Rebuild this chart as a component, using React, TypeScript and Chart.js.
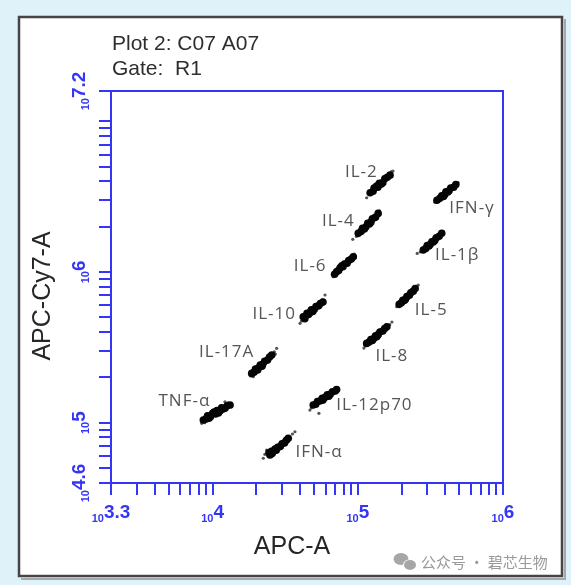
import React, { useEffect, useRef } from 'react';
import { Chart, registerables } from 'chart.js';
Chart.register(...registerables);

// ---- text ----
const HEADER_LINES = ['Plot 2: C07 A07', 'Gate:  R1'];
const X_TITLE = 'APC-A';
const Y_TITLE = 'APC-Cy7-A';
const WATERMARK = '公众号 · 碧芯生物';

// ---- axis ranges (log10 exponents) and tick labels ----
const X_RANGE = [3.3, 6];
const Y_RANGE = [4.6, 7.2];
const X_TICK_LABELS = ['3.3', '4', '5', '6'];
const Y_TICK_LABELS = ['4.6', '5', '6', '7.2'];

// ---- bead clusters: [log10(APC-A), log10(APC-Cy7-A)] ----
const IL2_CORE = [[5.085, 6.525], [5.105, 6.535], [5.112, 6.556], [5.138, 6.562], [5.148, 6.588], [5.172, 6.592], [5.186, 6.618], [5.203, 6.628], [5.222, 6.642], [5.13, 6.57], [5.16, 6.582]];
const IL2_STRAY = [[5.061, 6.492], [5.242, 6.669], [5.232, 6.665], [5.18, 6.63]];
const IFNG_CORE = [[5.545, 6.475], [5.565, 6.488], [5.578, 6.505], [5.598, 6.512], [5.607, 6.532], [5.628, 6.538], [5.64, 6.556], [5.66, 6.562], [5.675, 6.58], [5.59, 6.5], [5.62, 6.53]];
const IFNG_STRAY = [[5.531, 6.462], [5.69, 6.592], [5.555, 6.47]];
const IL4_CORE = [[5.003, 6.256], [5.022, 6.268], [5.032, 6.29], [5.055, 6.298], [5.068, 6.322], [5.09, 6.33], [5.1, 6.352], [5.122, 6.362], [5.14, 6.388], [5.045, 6.285], [5.08, 6.318]];
const IL4_STRAY = [[4.965, 6.216], [5.148, 6.405], [4.99, 6.235], [5.11, 6.375]];
const IL1B_CORE = [[5.451, 6.145], [5.468, 6.155], [5.478, 6.175], [5.498, 6.182], [5.51, 6.2], [5.53, 6.208], [5.54, 6.226], [5.56, 6.236], [5.578, 6.256], [5.49, 6.172], [5.52, 6.198]];
const IL1B_STRAY = [[5.409, 6.123], [5.43, 6.132], [5.59, 6.265]];
const IL6_CORE = [[4.84, 5.985], [4.854, 6.001], [4.868, 6.01], [4.878, 6.028], [4.897, 6.035], [4.908, 6.052], [4.926, 6.058], [4.937, 6.076], [4.955, 6.085], [4.969, 6.101], [4.89, 6.04]];
const IL6_STRAY = [[4.831, 5.968], [4.975, 6.118], [4.96, 6.11]];
const IL5_CORE = [[5.285, 5.785], [5.3, 5.795], [5.31, 5.812], [5.328, 5.818], [5.338, 5.836], [5.355, 5.845], [5.365, 5.862], [5.382, 5.872], [5.395, 5.89], [5.32, 5.81]];
const IL5_STRAY = [[5.268, 5.769], [5.416, 5.913], [5.405, 5.905], [5.37, 5.885]];
const IL10_CORE = [[4.624, 5.703], [4.64, 5.708], [4.65, 5.725], [4.67, 5.73], [4.68, 5.748], [4.7, 5.752], [4.712, 5.77], [4.73, 5.775], [4.742, 5.79], [4.76, 5.8], [4.66, 5.718], [4.69, 5.738], [4.635, 5.69]];
const IL10_STRAY = [[4.602, 5.659], [4.612, 5.675], [4.774, 5.847], [4.755, 5.815]];
const IL8_CORE = [[5.061, 5.526], [5.078, 5.535], [5.09, 5.552], [5.11, 5.558], [5.122, 5.577], [5.14, 5.584], [5.152, 5.602], [5.172, 5.608], [5.185, 5.625], [5.2, 5.636], [5.1, 5.545], [5.13, 5.57]];
const IL8_STRAY = [[5.042, 5.495], [5.235, 5.668], [5.22, 5.65], [5.05, 5.51]];
const IL17A_CORE = [[4.269, 5.327], [4.285, 5.335], [4.295, 5.355], [4.315, 5.362], [4.328, 5.382], [4.345, 5.388], [4.358, 5.408], [4.378, 5.415], [4.392, 5.435], [4.407, 5.449], [4.31, 5.35], [4.34, 5.375]];
const IL17A_STRAY = [[4.28, 5.305], [4.441, 5.493], [4.425, 5.47], [4.432, 5.455], [4.262, 5.31]];
const TNFA_CORE = [[3.936, 5.018], [3.955, 5.025], [3.965, 5.045], [3.985, 5.04], [4.0, 5.062], [4.02, 5.058], [4.03, 5.08], [4.05, 5.078], [4.062, 5.098], [4.085, 5.095], [4.1, 5.112], [4.12, 5.117], [3.975, 5.03], [4.01, 5.07], [4.04, 5.065], [4.07, 5.09]];
const TNFA_STRAY = [[3.925, 4.996], [4.085, 5.139], [4.105, 5.132], [3.945, 5.0], [4.13, 5.105]];
const IL12_CORE = [[4.693, 5.117], [4.71, 5.122], [4.722, 5.14], [4.742, 5.145], [4.755, 5.162], [4.775, 5.168], [4.79, 5.185], [4.81, 5.188], [4.825, 5.205], [4.845, 5.21], [4.854, 5.22], [4.76, 5.15], [4.8, 5.175]];
const IL12_STRAY = [[4.67, 5.084], [4.732, 5.062], [4.865, 5.225], [4.68, 5.098]];
const IFNA_CORE = [[4.395, 4.786], [4.41, 4.795], [4.42, 4.812], [4.438, 4.818], [4.448, 4.836], [4.466, 4.842], [4.478, 4.86], [4.495, 4.866], [4.508, 4.884], [4.521, 4.896], [4.405, 4.81], [4.43, 4.825], [4.388, 4.8]];
const IFNA_STRAY = [[4.349, 4.764], [4.567, 4.94], [4.372, 4.819], [4.55, 4.925], [4.36, 4.79]];

const CLUSTER_NAMES = ['IL-2', 'IFN-γ', 'IL-4', 'IL-1β', 'IL-6', 'IL-5', 'IL-10', 'IL-8', 'IL-17A', 'TNF-α', 'IL-12p70', 'IFN-α'];
const CLUSTER_CORES = [IL2_CORE, IFNG_CORE, IL4_CORE, IL1B_CORE, IL6_CORE, IL5_CORE, IL10_CORE, IL8_CORE, IL17A_CORE, TNFA_CORE, IL12_CORE, IFNA_CORE];
const CLUSTER_STRAYS = [IL2_STRAY, IFNG_STRAY, IL4_STRAY, IL1B_STRAY, IL6_STRAY, IL5_STRAY, IL10_STRAY, IL8_STRAY, IL17A_STRAY, TNFA_STRAY, IL12_STRAY, IFNA_STRAY];

// label placement relative to cluster centre (pixels) - style, not data
const LABEL_PLACE: { dx: number; dy: number; align: CanvasTextAlign }[] = [
  { dx: -2, dy: -12, align: 'right' },
  { dx: 3, dy: 15, align: 'left' },
  { dx: -13, dy: -3, align: 'right' },
  { dx: 3, dy: 13, align: 'left' },
  { dx: -17, dy: 1, align: 'right' },
  { dx: 8, dy: 13, align: 'left' },
  { dx: -16, dy: 3, align: 'right' },
  { dx: -1, dy: 20, align: 'left' },
  { dx: -7, dy: -13, align: 'right' },
  { dx: -6, dy: -11, align: 'right' },
  { dx: 11, dy: 8, align: 'left' },
  { dx: 18, dy: 4, align: 'left' },
];

const BLUE = '#3535f5';
const toPt = (p: number[]) => ({ x: Math.pow(10, p[0]), y: Math.pow(10, p[1]) });

const decorPlugin = {
  id: 'decor',
  beforeDraw(chart: any) {
    const ctx = chart.ctx as CanvasRenderingContext2D;
    const W = chart.width, H = chart.height;
    ctx.save();
    ctx.fillStyle = '#dff2f9';
    ctx.fillRect(0, 0, W, H);
    ctx.fillStyle = '#ffffff';
    ctx.fillRect(19, 17, 543, 559);
    ctx.strokeStyle = '#a8a8a8';
    ctx.lineWidth = 2;
    ctx.beginPath();
    ctx.moveTo(565, 19); ctx.lineTo(565, 579); ctx.lineTo(21, 579);
    ctx.stroke();
    ctx.strokeStyle = '#454545';
    ctx.lineWidth = 2.5;
    ctx.strokeRect(19, 17, 543, 559);
    ctx.restore();
  },
  afterDraw(chart: any) {
    const ctx = chart.ctx as CanvasRenderingContext2D;
    const xs = chart.scales.x, ys = chart.scales.y;
    const area = chart.chartArea;
    const L = area.left, R = area.right, T = area.top, B = area.bottom;
    ctx.save();

    // header
    ctx.fillStyle = '#2e2e2e';
    ctx.font = '21px "Liberation Sans", Arial, sans-serif';
    ctx.textAlign = 'left';
    ctx.textBaseline = 'alphabetic';
    ctx.fillText(HEADER_LINES[0], 112, 50);
    ctx.fillText(HEADER_LINES[1], 112, 75);

    // axis box
    ctx.strokeStyle = BLUE;
    ctx.lineWidth = 2;
    ctx.strokeRect(L, T, R - L, B - T);

    // ticks
    const TL = 12;
    ctx.lineWidth = 2;
    ctx.beginPath();
    const xmin = Math.pow(10, X_RANGE[0]), xmax = Math.pow(10, X_RANGE[1]);
    const ymin = Math.pow(10, Y_RANGE[0]), ymax = Math.pow(10, Y_RANGE[1]);
    const xTickVals: number[] = [xmin, xmax];
    for (let d = Math.floor(X_RANGE[0]); d <= Math.ceil(X_RANGE[1]); d++) {
      for (let m = 1; m <= 9; m++) {
        const v = m * Math.pow(10, d);
        if (v >= xmin && v <= xmax) xTickVals.push(v);
      }
    }
    xTickVals.forEach((v) => {
      const px = Math.round(xs.getPixelForValue(v));
      ctx.moveTo(px, B);
      ctx.lineTo(px, B + TL);
    });
    const yTickVals: number[] = [ymin, ymax];
    for (let d = Math.floor(Y_RANGE[0]); d <= Math.ceil(Y_RANGE[1]); d++) {
      for (let m = 1; m <= 9; m++) {
        const v = m * Math.pow(10, d);
        if (v >= ymin && v <= ymax) yTickVals.push(v);
      }
    }
    yTickVals.forEach((v) => {
      const py = Math.round(ys.getPixelForValue(v));
      ctx.moveTo(L, py);
      ctx.lineTo(L - TL, py);
    });
    ctx.stroke();

    // tick labels
    const smallFont = 'bold 11px "Liberation Sans", Arial, sans-serif';
    const bigFont = 'bold 19px "Liberation Sans", Arial, sans-serif';
    ctx.fillStyle = BLUE;
    ctx.textAlign = 'left';
    ctx.textBaseline = 'alphabetic';
    const drawPow = (cx: number, cy: number, exp: string, rotate: boolean) => {
      ctx.save();
      ctx.translate(cx, cy);
      if (rotate) ctx.rotate(-Math.PI / 2);
      ctx.font = smallFont;
      const ws = ctx.measureText('10').width;
      ctx.font = bigFont;
      const we = ctx.measureText(exp).width;
      const start = -(ws + we) / 2;
      ctx.font = smallFont;
      ctx.fillText('10', start, 4);
      ctx.font = bigFont;
      ctx.fillText(exp, start + ws, 0);
      ctx.restore();
    };
    X_TICK_LABELS.forEach((e) => {
      drawPow(xs.getPixelForValue(Math.pow(10, parseFloat(e))), 518, e, false);
    });
    Y_TICK_LABELS.forEach((e) => {
      drawPow(85, ys.getPixelForValue(Math.pow(10, parseFloat(e))), e, true);
    });

    // axis titles
    ctx.fillStyle = '#262626';
    ctx.font = '25px "Liberation Sans", Arial, sans-serif';
    ctx.textAlign = 'center';
    ctx.textBaseline = 'middle';
    ctx.fillText(X_TITLE, 292, 547);
    ctx.save();
    ctx.translate(43, 296);
    ctx.rotate(-Math.PI / 2);
    ctx.fillText(Y_TITLE, 0, 0);
    ctx.restore();

    // cluster labels
    ctx.fillStyle = '#555555';
    ctx.font = '17px "Open Sans", "Noto Sans", sans-serif';
    (ctx as any).letterSpacing = '1px';
    ctx.textBaseline = 'middle';
    CLUSTER_CORES.forEach((core, i) => {
      let sx = 0, sy = 0;
      core.forEach((p) => {
        sx += xs.getPixelForValue(Math.pow(10, p[0]));
        sy += ys.getPixelForValue(Math.pow(10, p[1]));
      });
      const cx = sx / core.length, cy = sy / core.length;
      const pl = LABEL_PLACE[i];
      ctx.textAlign = pl.align;
      ctx.fillText(CLUSTER_NAMES[i], cx + pl.dx, cy + pl.dy);
    });
    (ctx as any).letterSpacing = '0px';

    // watermark
    ctx.fillStyle = '#a6a6a6';
    ctx.beginPath();
    ctx.ellipse(401, 559, 7.5, 6, 0, 0, Math.PI * 2);
    ctx.fill();
    ctx.fillStyle = '#ffffff';
    ctx.beginPath();
    ctx.ellipse(410, 565, 7, 5.8, 0, 0, Math.PI * 2);
    ctx.fill();
    ctx.fillStyle = '#a6a6a6';
    ctx.beginPath();
    ctx.ellipse(410, 565, 6, 5, 0, 0, Math.PI * 2);
    ctx.fill();
    ctx.font = '15px "Noto Sans CJK SC", sans-serif';
    ctx.textAlign = 'left';
    ctx.textBaseline = 'middle';
    ctx.fillStyle = '#9a9a9a';
    ctx.fillText(WATERMARK, 421, 562);

    ctx.restore();
  },
};

export default function App() {
  const ref = useRef<HTMLCanvasElement | null>(null);
  useEffect(() => {
    if (!ref.current) return;
    const coreData = CLUSTER_CORES.flat().map(toPt);
    const strayData = CLUSTER_STRAYS.flat().map(toPt);
    const chart = new Chart(ref.current, {
      type: 'scatter',
      data: {
        datasets: [
          {
            label: 'beads',
            data: coreData,
            pointRadius: 3.8,
            pointBorderWidth: 0,
            pointBackgroundColor: '#050505',
            pointBorderColor: '#050505',
          },
          {
            label: 'sparse',
            data: strayData,
            pointRadius: 1.6,
            pointBorderWidth: 0,
            pointBackgroundColor: '#555555',
            pointBorderColor: '#555555',
          },
        ],
      },
      options: {
        animation: false,
        responsive: false,
        devicePixelRatio: 1,
        events: [],
        layout: { padding: { left: 111, top: 91, right: 68, bottom: 102 } },
        plugins: { legend: { display: false }, tooltip: { enabled: false } },
        scales: {
          x: { type: 'logarithmic', min: Math.pow(10, X_RANGE[0]), max: Math.pow(10, X_RANGE[1]), display: false },
          y: { type: 'logarithmic', min: Math.pow(10, Y_RANGE[0]), max: Math.pow(10, Y_RANGE[1]), display: false },
        },
      },
      plugins: [decorPlugin],
    });
    return () => chart.destroy();
  }, []);
  return (
    <div style={{ position: 'absolute', left: 0, top: 0, width: 571, height: 585 }}>
      <canvas ref={ref} width={571} height={585} style={{ display: 'block' }} />
    </div>
  );
}
